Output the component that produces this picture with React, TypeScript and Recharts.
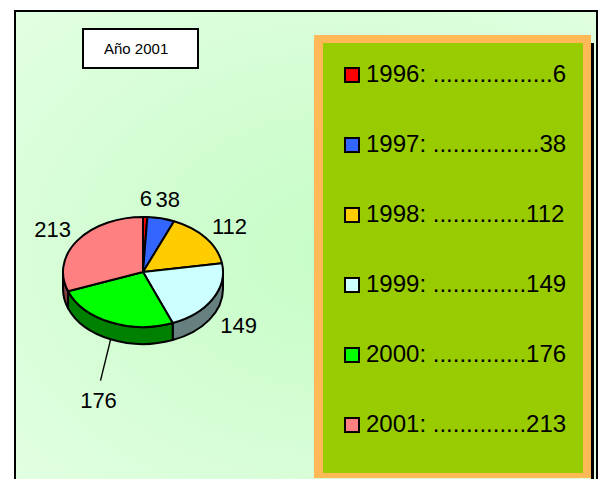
import { PieChart, Pie, Cell } from "recharts";

const years = ["1996", "1997", "1998", "1999", "2000", "2001"];
const counts = [6, 38, 112, 149, 176, 213];
const legendLabels = [
  "1996: ..................6",
  "1997: ................38",
  "1998: ..............112",
  "1999: ..............149",
  "2000: ..............176",
  "2001: ..............213",
];
const title = "Año 2001";

const topColors = ["#ff0000", "#3366ff", "#ffcc00", "#ccffff", "#00ff00", "#ff8080"];
const sideColors = ["#800000", "#1a3380", "#806600", "#668080", "#008000", "#804040"];

const data = years.map((y, i) => ({ name: y, value: counts[i] }));

// pie geometry
const CX = 143;
const CY = 272;
const RX = 80;
const RY = 55;
const DEPTH = 17;
const LABEL_RX = 110;
const LABEL_RY = 74;
const FONT = "'Liberation Sans', Arial, Helvetica, sans-serif";

// recharts angle (ccw from 3 o'clock) -> clockwise from top
const toTheta = (a: number) => 90 - a;
const pt = (theta: number, dy = 0) => {
  const r = (theta * Math.PI) / 180;
  return [CX + RX * Math.sin(r), CY - RY * Math.cos(r) + dy];
};

function TopSlice(props: any) {
  const t1 = toTheta(props.startAngle);
  const t2 = toTheta(props.endAngle);
  const [x1, y1] = pt(t1);
  const [x2, y2] = pt(t2);
  const large = t2 - t1 > 180 ? 1 : 0;
  const d = `M${CX},${CY} L${x1},${y1} A${RX},${RY} 0 ${large} 1 ${x2},${y2} Z`;
  return <path d={d} fill={props.fill} stroke="#000" strokeWidth={2} strokeLinejoin="round" />;
}

function SideSlice(props: any) {
  const a = Math.max(toTheta(props.startAngle), 90);
  const b = Math.min(toTheta(props.endAngle), 270);
  if (a >= b) return <g />;
  const [x1, y1] = pt(a);
  const [x2, y2] = pt(b);
  const [x3, y3] = pt(b, DEPTH);
  const [x4, y4] = pt(a, DEPTH);
  const d = `M${x1},${y1} A${RX},${RY} 0 0 1 ${x2},${y2} L${x3},${y3} A${RX},${RY} 0 0 0 ${x4},${y4} Z`;
  return <path d={d} fill={props.fill} stroke="#000" strokeWidth={2} strokeLinejoin="round" />;
}

// labels pushed out with a leader line
const leaderPush: Record<number, number> = { 4: 44 };

function SliceLabel(props: any) {
  const theta = toTheta(props.midAngle);
  const r = (theta * Math.PI) / 180;
  const s = Math.sin(r);
  const c = Math.cos(r);
  const front = c < 0 ? DEPTH : 0;
  const x = CX + LABEL_RX * s;
  let y = CY - LABEL_RY * c + front;
  const push = leaderPush[props.index];
  const text = String(counts[props.index]);
  if (push) {
    const sx = CX + RX * s;
    const sy = CY - RY * c + DEPTH;
    y = y + push;
    return (
      <g>
        <path d={`M${sx},${sy} L${x + 2},${y - 20}`} stroke="#000" strokeWidth={1.4} fill="none" />
        <text x={x} y={y} textAnchor="middle" dominantBaseline="central" fontFamily={FONT} fontSize={22} fill="#000">
          {text}
        </text>
      </g>
    );
  }
  return (
    <text x={x} y={y} textAnchor="middle" dominantBaseline="central" fontFamily={FONT} fontSize={22} fill="#000">
      {text}
    </text>
  );
}

export default function App() {
  return (
    <div style={{ position: "absolute", left: 0, top: 0, width: 599, height: 479, overflow: "hidden", background: "#fff" }}>
      <div
        style={{
          position: "absolute",
          left: 14,
          top: 10,
          width: 580,
          height: 480,
          borderLeft: "2px solid #000",
          borderTop: "2px solid #000",
          borderRight: "2px solid #000",
          background: "radial-gradient(ellipse at 55% 50%, #c6fcc6 0%, #d2fdd2 45%, #e2ffe2 100%)",
        }}
      />
      <div
        style={{
          position: "absolute",
          left: 82,
          top: 28,
          width: 113,
          height: 37,
          border: "2px solid #000",
          background: "#fff",
          fontFamily: FONT,
          fontSize: 15,
          lineHeight: "37px",
          color: "#000",
        }}
      >
        <span style={{ position: "absolute", left: 20, top: 0 }}>{title}</span>
      </div>

      {/* legend box */}
      <div style={{ position: "absolute", left: 591, top: 43, width: 3, height: 436, background: "#000" }} />
      <div
        style={{
          position: "absolute",
          left: 314,
          top: 35,
          width: 260,
          height: 430,
          borderLeft: "9px solid #ffb957",
          borderRight: "8px solid #ffb957",
          borderTop: "8px solid #ffb957",
          borderBottom: "5px solid #ffb957",
          background: "#99cc00",
        }}
      />
      {legendLabels.map((lab, i) => (
        <div
          key={lab}
          style={{
            position: "absolute",
            left: 344,
            top: 74 + 70 * i - 15,
            height: 30,
            display: "flex",
            alignItems: "center",
            fontFamily: FONT,
            fontSize: 24,
            color: "#000",
            whiteSpace: "pre",
          }}
        >
          <span
            style={{
              display: "inline-block",
              width: 12,
              height: 12,
              border: "2px solid #000",
              background: topColors[i],
              marginRight: 6,
              marginTop: 1,
            }}
          />
          <span>{lab}</span>
        </div>
      ))}

      <div style={{ position: "absolute", left: 0, top: 0 }}>
        <PieChart width={599} height={479} margin={{ top: 0, right: 0, bottom: 0, left: 0 }}>
          <Pie
            data={data}
            dataKey="value"
            nameKey="name"
            cx={CX}
            cy={CY}
            outerRadius={RX}
            startAngle={90}
            endAngle={-270}
            isAnimationActive={false}
            shape={SideSlice}
            stroke="none"
          >
            {data.map((d, i) => (
              <Cell key={d.name} fill={sideColors[i]} />
            ))}
          </Pie>
          <Pie
            data={data}
            dataKey="value"
            nameKey="name"
            cx={CX}
            cy={CY}
            outerRadius={RX}
            startAngle={90}
            endAngle={-270}
            isAnimationActive={false}
            shape={TopSlice}
            label={SliceLabel}
            labelLine={false}
            stroke="none"
          >
            {data.map((d, i) => (
              <Cell key={d.name} fill={topColors[i]} />
            ))}
          </Pie>
        </PieChart>
      </div>
    </div>
  );
}
